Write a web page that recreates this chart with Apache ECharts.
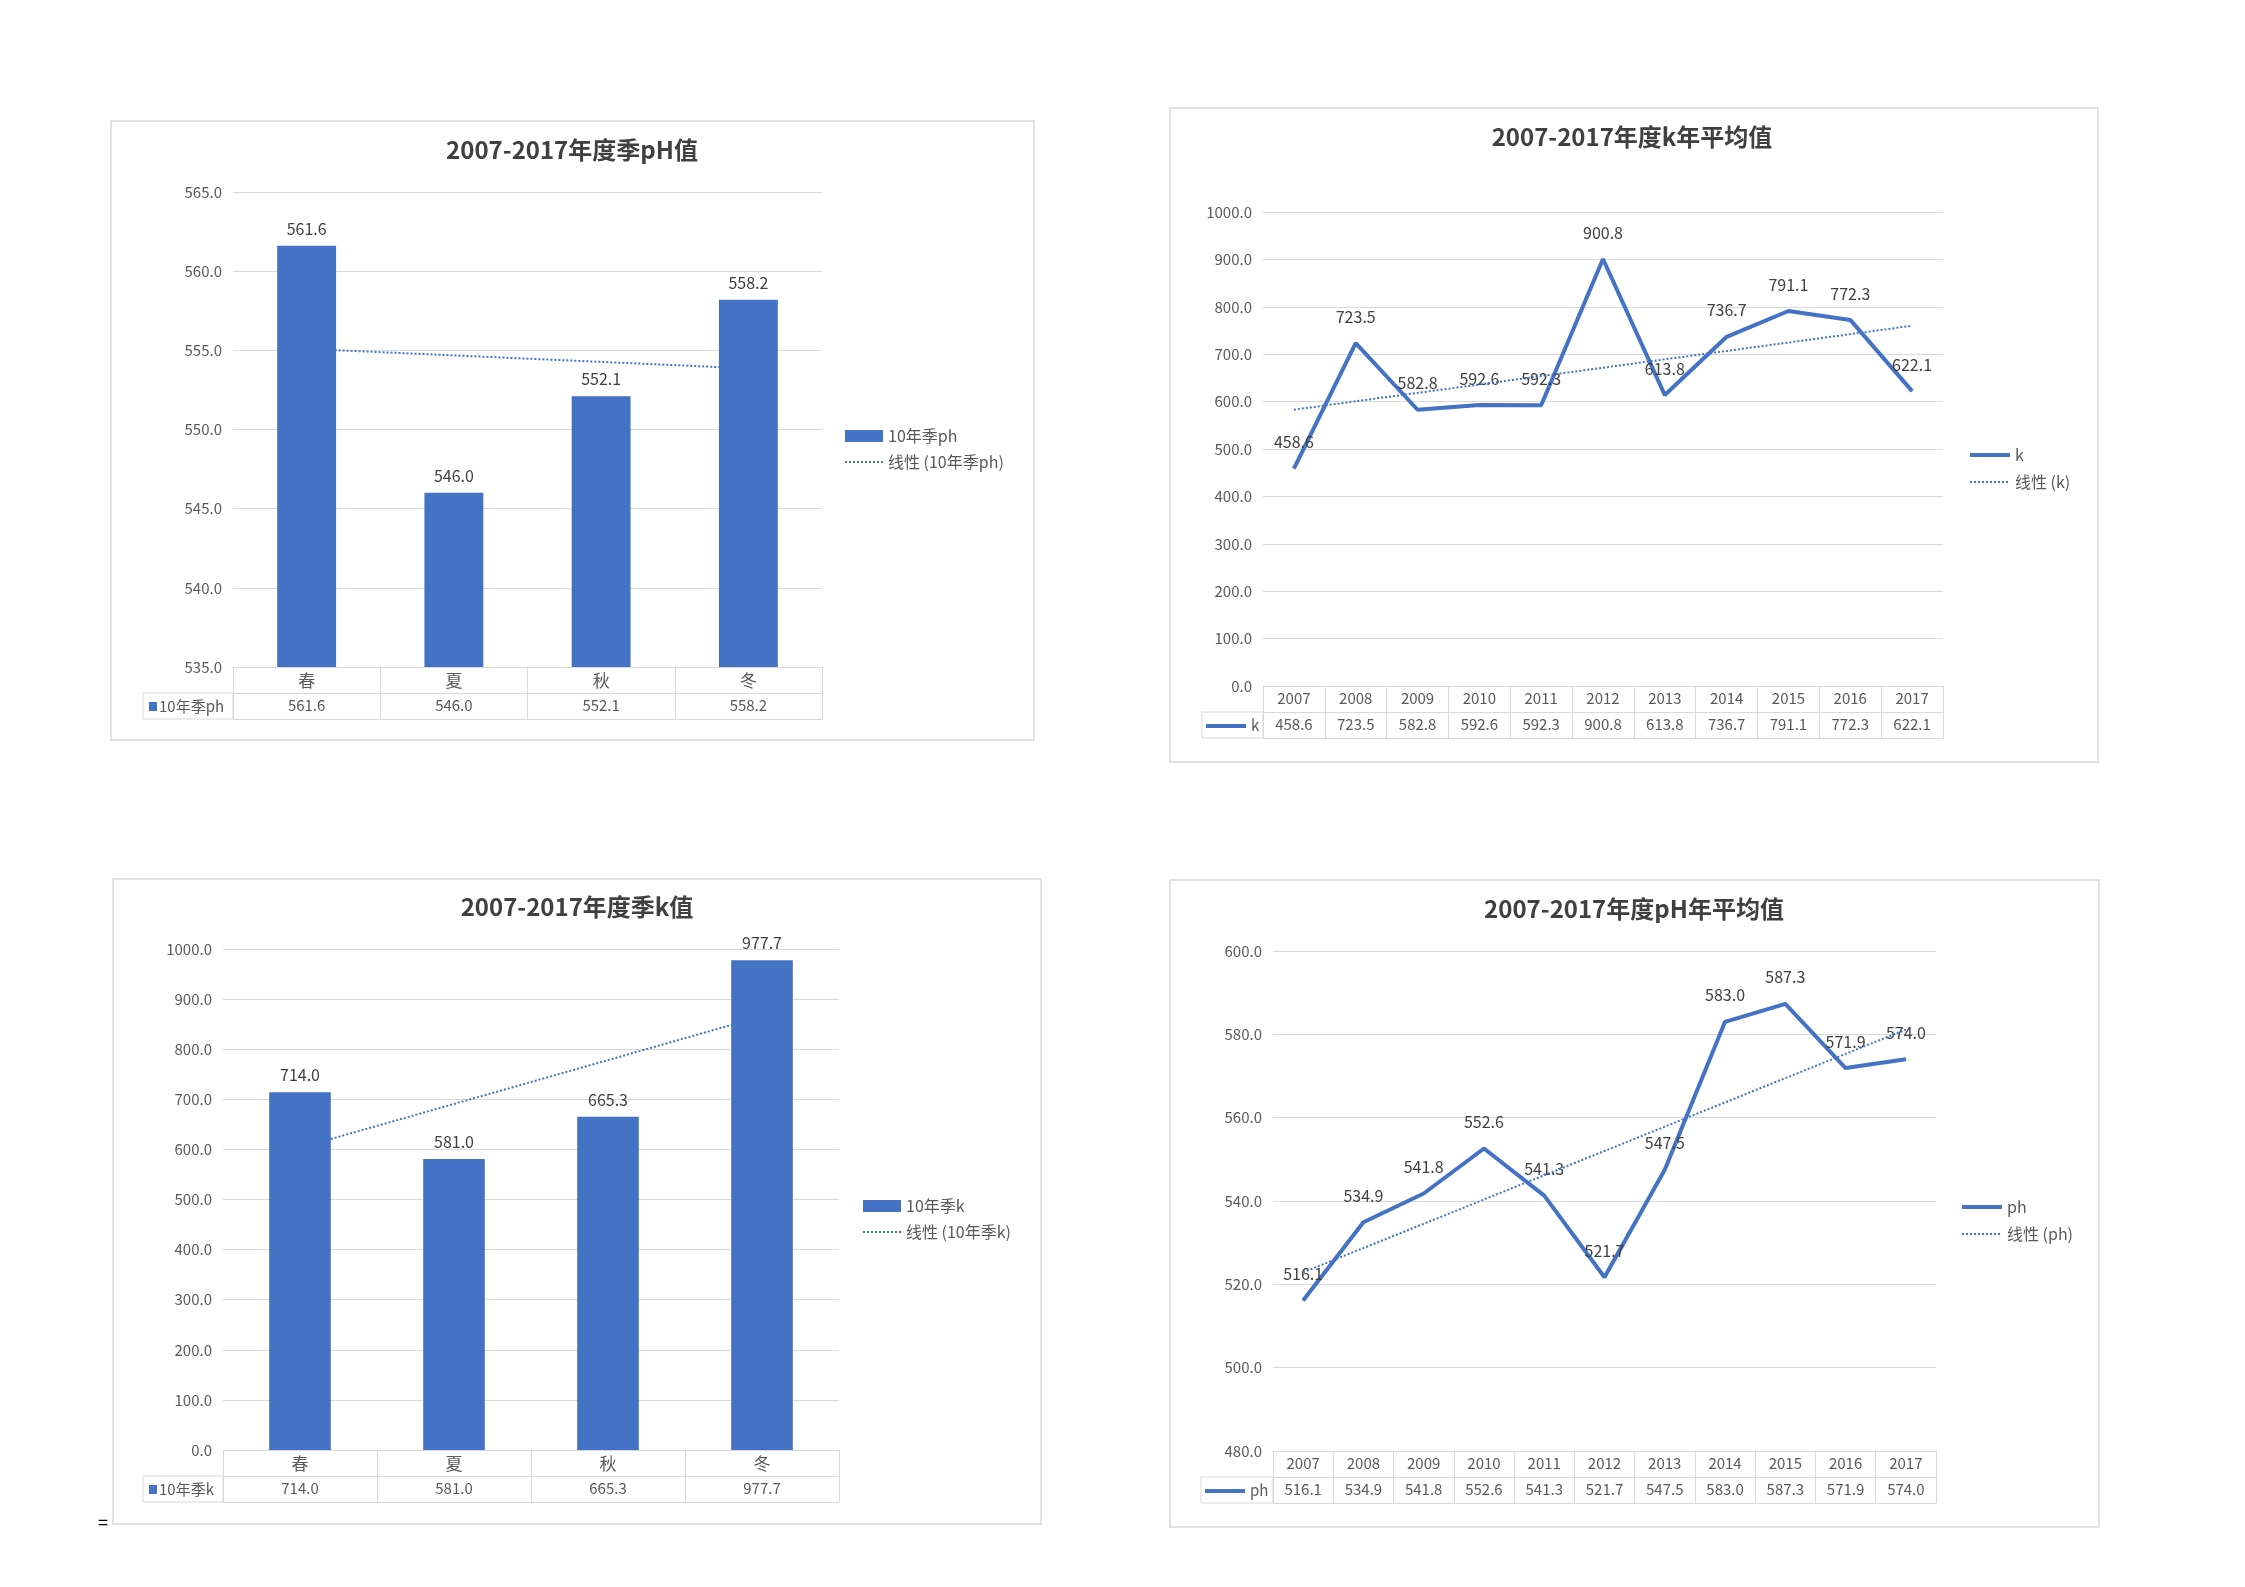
<!DOCTYPE html>
<html>
<head>
<meta charset="utf-8">
<script src="https://cdn.jsdelivr.net/npm/echarts@6/dist/echarts.min.js"></script>
<style>
html,body{margin:0;padding:0;background:#fff;}
#c{width:2245px;height:1587px;}
</style>
</head>
<body>
<div id="c"></div>
<script>
// ---- data ----
const seasons = ['春', '夏', '秋', '冬'];
const seasonPh = [561.6, 546.0, 552.1, 558.2];
const seasonK = [714.0, 581.0, 665.3, 977.7];
const years = ['2007', '2008', '2009', '2010', '2011', '2012', '2013', '2014', '2015', '2016', '2017'];
const yearK = [458.6, 723.5, 582.8, 592.6, 592.3, 900.8, 613.8, 736.7, 791.1, 772.3, 622.1];
const yearPh = [516.1, 534.9, 541.8, 552.6, 541.3, 521.7, 547.5, 583.0, 587.3, 571.9, 574.0];
const seasonPhAxis = [535, 565, 5];
const yearKAxis = [0, 1000, 100];
const seasonKAxis = [0, 1000, 100];
const yearPhAxis = [480, 600, 20];

// linear trend (least squares), like Excel's linear trendline
function trend(vals) {
  const n = vals.length;
  let sx = 0, sy = 0, sxx = 0, sxy = 0;
  vals.forEach((v, i) => { const x = i + 1; sx += x; sy += v; sxx += x * x; sxy += x * v; });
  const b = (n * sxy - sx * sy) / (n * sxx - sx * sx);
  const a = (sy - b * sx) / n;
  return vals.map((v, i) => +(a + b * (i + 1)).toFixed(3));
}

const BLUE = '#4472C4';
const GRID = '#d9d9d9';
const TXT = '#595959';
const FONT = '"Noto Sans CJK SC", "Noto Sans", sans-serif';

const charts = [
  { title: '2007-2017年度季pH值', cats: seasons, vals: seasonPh, axis: seasonPhAxis, kind: 'bar',
    name: '10年季ph', grid: { left: 233, top: 192, width: 589, height: 475 },
    legend: { left: 839, top: 423 }, titlePos: [572, 138] },
  { title: '2007-2017年度k年平均值', cats: years, vals: yearK, axis: yearKAxis, kind: 'line',
    name: 'k', grid: { left: 1263, top: 212, width: 680, height: 474 },
    legend: { left: 1963, top: 442 }, titlePos: [1632, 125] },
  { title: '2007-2017年度季k值', cats: seasons, vals: seasonK, axis: seasonKAxis, kind: 'bar',
    name: '10年季k', grid: { left: 223, top: 949, width: 616, height: 501 },
    legend: { left: 857, top: 1193 }, titlePos: [577, 895] },
  { title: '2007-2017年度pH年平均值', cats: years, vals: yearPh, axis: yearPhAxis, kind: 'line',
    name: 'ph', grid: { left: 1273, top: 951, width: 663, height: 500 },
    legend: { left: 1955, top: 1194 }, titlePos: [1634, 897] }
];

const option = {
  animation: false,
  backgroundColor: '#fff',
  textStyle: { fontFamily: FONT },
  title: [], grid: [], xAxis: [], yAxis: [], series: [], legend: [], graphic: []
};

charts.forEach((c, i) => {
  option.title.push({
    text: c.title, left: c.titlePos[0], top: c.titlePos[1], textAlign: 'center', padding: 0,
    textStyle: { fontSize: 24, fontWeight: 'bold', color: '#404040', fontFamily: FONT }
  });
  option.grid.push(Object.assign({ containLabel: false }, c.grid));
  // category axis (row 1 of table) with ticks forming the table's vertical lines
  option.xAxis.push({
    type: 'category', gridIndex: i, data: c.cats, position: 'bottom',
    axisLine: { show: true, onZero: false, lineStyle: { color: GRID, width: 1 } },
    axisTick: { show: true, length: 52, alignWithLabel: false, interval: 0, lineStyle: { color: GRID } },
    axisLabel: { interval: 0, margin: 5, fontSize: c.kind === 'bar' ? 17 : 15, color: TXT, fontFamily: FONT },
    splitLine: { show: false }
  });
  // values row of the table
  option.xAxis.push({
    type: 'category', gridIndex: i, data: c.vals.map(v => v.toFixed(1)), position: 'bottom', offset: 26,
    axisLine: { show: true, onZero: false, lineStyle: { color: GRID, width: 1 } },
    axisTick: { show: false },
    axisLabel: { interval: 0, margin: 5, fontSize: 15, color: TXT, fontFamily: FONT }
  });
  // bottom border of the table
  option.xAxis.push({
    type: 'category', gridIndex: i, data: c.cats, position: 'bottom', offset: 52,
    axisLine: { show: true, onZero: false, lineStyle: { color: GRID, width: 1 } },
    axisTick: { show: false }, axisLabel: { show: false }
  });
  option.yAxis.push({
    type: 'value', gridIndex: i, min: c.axis[0], max: c.axis[1], interval: c.axis[2],
    axisLine: { show: false }, axisTick: { show: false },
    axisLabel: { margin: 11, fontSize: 15, color: TXT, fontFamily: FONT, formatter: v => v.toFixed(1) },
    splitLine: { show: true, lineStyle: { color: GRID, width: 1 } }
  });
  const trendName = '线性 (' + c.name + ')';
  const hideSym = { opacity: 0 };
  if (c.kind === 'bar') {
    option.series.push({
      name: trendName, type: 'line', xAxisIndex: i * 3, yAxisIndex: i, data: trend(c.vals),
      symbol: 'none', z: 1, silent: true, itemStyle: { color: BLUE },
      lineStyle: { color: BLUE, width: 2, type: [2, 2] }
    });
    option.series.push({
      name: c.name, type: 'bar', xAxisIndex: i * 3, yAxisIndex: i, data: c.vals,
      barWidth: '40%', z: 3, itemStyle: { color: BLUE },
      label: { show: true, position: 'top', distance: 9, fontSize: 16, color: '#404040', fontFamily: FONT,
        formatter: p => p.value.toFixed(1) }
    });
    option.legend.push({
      orient: 'vertical', left: c.legend.left, top: c.legend.top, itemGap: 10,
      itemWidth: 38, itemHeight: 12,
      textStyle: { fontSize: 16, color: TXT, fontFamily: FONT },
      data: [{ name: c.name, icon: 'rect' },
             { name: trendName, itemStyle: hideSym, lineStyle: { width: 2, type: [2, 2] } }]
    });
  } else {
    option.series.push({
      name: c.name, type: 'line', xAxisIndex: i * 3, yAxisIndex: i, data: c.vals,
      symbol: 'circle', symbolSize: 1, showSymbol: true, z: 3,
      lineStyle: { color: BLUE, width: 4 }, itemStyle: { color: BLUE },
      label: { show: true, position: 'top', distance: 18, fontSize: 16, color: '#404040', fontFamily: FONT,
        formatter: p => p.value.toFixed(1) }
    });
    option.series.push({
      name: trendName, type: 'line', xAxisIndex: i * 3, yAxisIndex: i, data: trend(c.vals),
      symbol: 'none', z: 4, silent: true, itemStyle: { color: BLUE },
      lineStyle: { color: BLUE, width: 2, type: [2, 2] }
    });
    option.legend.push({
      orient: 'vertical', left: c.legend.left, top: c.legend.top, itemGap: 11,
      itemWidth: 40, itemHeight: 12,
      textStyle: { fontSize: 16, color: TXT, fontFamily: FONT },
      data: [{ name: c.name, itemStyle: hideSym, lineStyle: { width: 4 } },
             { name: trendName, itemStyle: hideSym, lineStyle: { width: 2, type: [2, 2] } }]
    });
  }
});

// decorative chart frames
const frames = [[111, 121, 923, 619], [1170, 108, 928, 654], [113, 879, 928, 645], [1170, 880, 929, 647]];
frames.forEach(f => option.graphic.push({
  type: 'rect', shape: { x: f[0], y: f[1], width: f[2], height: f[3] }, z: -10,
  style: { fill: 'none', stroke: GRID, lineWidth: 1.5 }
}));

// legend-key cells at the left of each data table
const cells = [
  { x: 143, y: 693, w: 90, h: 26, kind: 'bar', name: charts[0].name },
  { x: 1202, y: 712, w: 61, h: 26, kind: 'line', name: charts[1].name },
  { x: 143, y: 1476, w: 80, h: 26, kind: 'bar', name: charts[2].name },
  { x: 1201, y: 1477, w: 72, h: 26, kind: 'line', name: charts[3].name }
];
cells.forEach(c => {
  option.graphic.push({ type: 'rect', shape: { x: c.x, y: c.y, width: c.w, height: c.h },
    style: { fill: 'none', stroke: GRID, lineWidth: 1 } });
  if (c.kind === 'bar') {
    option.graphic.push({ type: 'rect', shape: { x: c.x + 6, y: c.y + 9, width: 8, height: 9 }, style: { fill: BLUE } });
    option.graphic.push({ type: 'text', x: c.x + 16, y: c.y + 13,
      style: { text: c.name, fontSize: 15, fill: TXT, fontFamily: FONT, textVerticalAlign: 'middle', verticalAlign: 'middle' } });
  } else {
    option.graphic.push({ type: 'line', shape: { x1: c.x + 4, y1: c.y + 14, x2: c.x + 44, y2: c.y + 14 },
      style: { stroke: BLUE, lineWidth: 4 } });
    option.graphic.push({ type: 'text', x: c.x + 49, y: c.y + 13,
      style: { text: c.name, fontSize: 15, fill: TXT, fontFamily: FONT, textVerticalAlign: 'middle', verticalAlign: 'middle' } });
  }
});

option.graphic.push({ type: 'text', x: 98, y: 1513, style: { text: '=', fontSize: 18, fill: '#000', fontFamily: FONT } });

const chart = echarts.init(document.getElementById('c'), null, { renderer: 'canvas' });
chart.setOption(option);
</script>
</body>
</html>
